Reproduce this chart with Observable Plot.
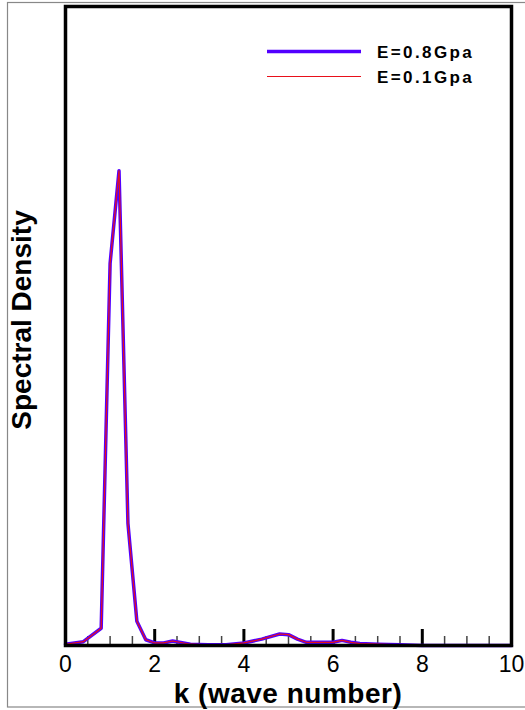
<!DOCTYPE html>
<html>
<head>
<meta charset="utf-8">
<script src="https://cdn.jsdelivr.net/npm/d3@7"></script>
<script src="https://cdn.jsdelivr.net/npm/@observablehq/plot@0.6"></script>
<style>
  html, body { margin: 0; padding: 0; background: #fff; }
  #chart svg { display: block; }
</style>
</head>
<body>
<div id="chart"></div>
<script>
// wave number samples (vertices)
const k = [0, 0.4, 0.8, 1.0, 1.2, 1.4, 1.6, 1.8, 2.0, 2.2, 2.4, 2.8, 3.2, 3.6, 4.0, 4.4, 4.8, 5.0, 5.2, 5.4, 5.8, 6.0, 6.2, 6.4, 6.6, 7.0, 7.5, 8.0, 9.0, 10.0];
// spectral density (arbitrary units)
const e08 = [0.002, 0.006, 0.027, 0.598, 0.743, 0.191, 0.038, 0.009, 0.004, 0.004, 0.007, 0.002, 0.001, 0.001, 0.004, 0.010, 0.018, 0.017, 0.010, 0.005, 0.005, 0.005, 0.008, 0.005, 0.003, 0.002, 0.001, 0.0, 0.0, 0.0];
const e01 = [0.002, 0.006, 0.027, 0.598, 0.743, 0.191, 0.038, 0.009, 0.004, 0.004, 0.007, 0.002, 0.001, 0.001, 0.004, 0.010, 0.018, 0.017, 0.010, 0.005, 0.005, 0.005, 0.008, 0.005, 0.003, 0.002, 0.001, 0.0, 0.0, 0.0];
const seriesNames = ["E=0.8Gpa", "E=0.1Gpa"];
const majorTicks = [0, 2, 4, 6, 8, 10];
const minorTicks = [0.5, 1, 1.5, 2.5, 3, 3.5, 4.5, 5, 5.5, 6.5, 7, 7.5, 8.5, 9, 9.5];
const xLabel = "k (wave number)";
const yLabel = "Spectral Density";

const blue = "#5200ff";
const red = "#e8101a";

const d08 = k.map((x, i) => ({k: x, v: e08[i]}));
const d01 = k.map((x, i) => ({k: x, v: e01[i]}));

const font = "'Liberation Sans', Arial, Helvetica, sans-serif";

const chart = Plot.plot({
  width: 525,
  height: 710,
  marginLeft: 65,
  marginRight: 14,
  marginTop: 6,
  marginBottom: 65,
  style: {fontFamily: font, fontSize: "23px", color: "#000", background: "#fff"},
  x: {domain: [0, 10], ticks: majorTicks, tickSize: 0, tickPadding: 10, tickFormat: d => String(d), label: null},
  y: {domain: [0, 1], axis: null},
  marks: [
    Plot.ruleX(minorTicks, {x: d => d, y1: 0, y2: 0, insetTop: -9, stroke: "#444", strokeWidth: 1.5}),
    Plot.ruleX(majorTicks, {x: d => d, y1: 0, y2: 0, insetTop: -16, stroke: "#000", strokeWidth: 3}),
    Plot.line(d08, {x: "k", y: "v", stroke: blue, strokeWidth: 3.5, strokeLinejoin: "round"}),
    Plot.line(d01, {x: "k", y: "v", stroke: red, strokeWidth: 1.2, strokeLinejoin: "round"}),
    Plot.frame({stroke: "#000", strokeWidth: 3.5})
  ]
});

const svg = d3.select(chart);
// outer gray border
svg.append("rect")
  .attr("x", 7.5).attr("y", 2.5).attr("width", 530).attr("height", 704.5)
  .attr("fill", "none").attr("stroke", "#888").attr("stroke-width", 1.2);

svg.append("text")
  .attr("x", 288).attr("y", 702.5)
  .attr("text-anchor", "middle")
  .attr("font-family", font).attr("font-weight", "bold").attr("font-size", 28)
  .attr("letter-spacing", 0.5)
  .attr("fill", "#000")
  .text(xLabel);
svg.append("text")
  .attr("transform", "translate(31,320) rotate(-90)")
  .attr("text-anchor", "middle")
  .attr("font-family", font).attr("font-weight", "bold").attr("font-size", 28)
  .attr("fill", "#000")
  .text(yLabel);

// legend
const legend = svg.append("g");
const legendItems = [
  {name: seriesNames[0], color: blue, width: 3.5, y: 51.5},
  {name: seriesNames[1], color: red, width: 1.2, y: 76.5}
];
legendItems.forEach(it => {
  legend.append("line")
    .attr("x1", 267).attr("x2", 361).attr("y1", it.y).attr("y2", it.y)
    .attr("stroke", it.color).attr("stroke-width", it.width);
  legend.append("text")
    .attr("x", 377).attr("y", it.y + 6.5)
    .attr("text-anchor", "start")
    .attr("font-family", font).attr("font-weight", "bold").attr("font-size", 17)
    .attr("letter-spacing", 2.4)
    .attr("fill", "#000")
    .text(it.name);
});

document.getElementById("chart").appendChild(chart);
</script>
</body>
</html>
